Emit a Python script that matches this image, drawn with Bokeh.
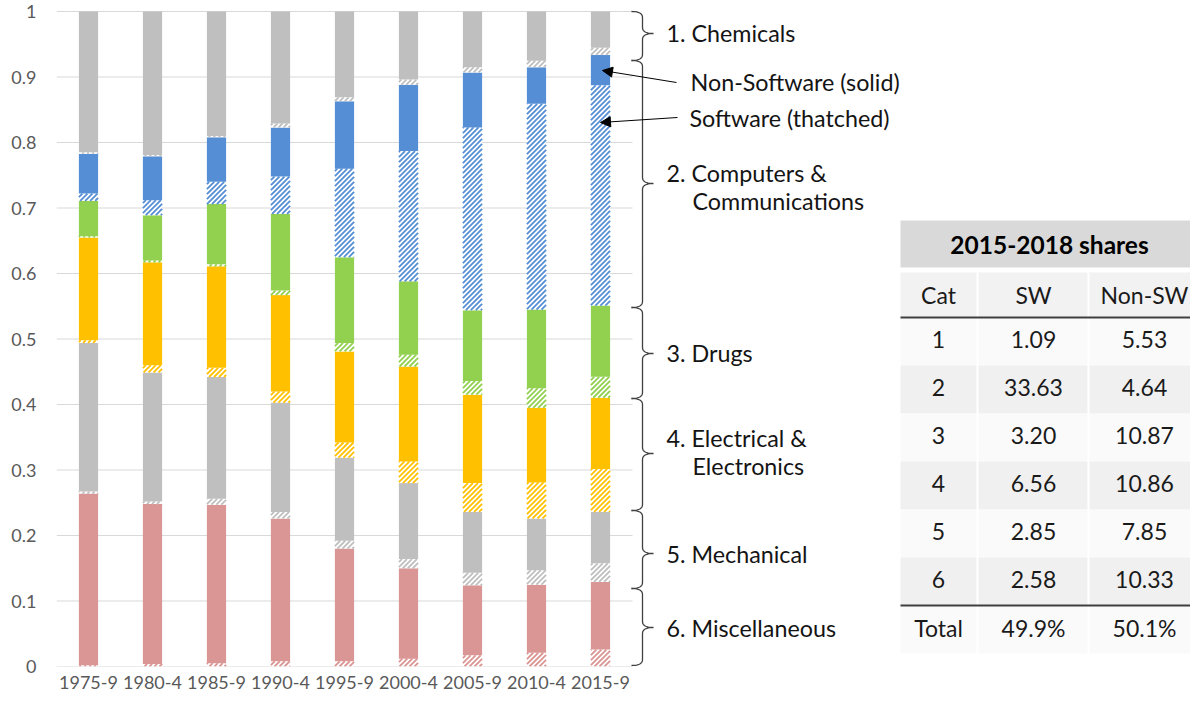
import numpy as np
from bokeh.plotting import figure
from bokeh.models import Range1d, FixedTicker, CustomJSTickFormatter, Arrow, NormalHead
from bokeh.core.properties import value
from bokeh.embed import file_html
from bokeh.resources import INLINE

# ---------------- data ----------------
periods = ["1975-9", "1980-4", "1985-9", "1990-4", "1995-9",
           "2000-4", "2005-9", "2010-4", "2015-9"]

# shares of all patents, stacked bottom -> top
misc_sw    = [0.002, 0.004, 0.005, 0.008, 0.008, 0.012, 0.017, 0.021, 0.0258]
misc_nonsw = [0.262, 0.244, 0.242, 0.218, 0.172, 0.138, 0.107, 0.104, 0.1033]
mech_sw    = [0.003, 0.004, 0.009, 0.010, 0.012, 0.014, 0.019, 0.022, 0.0285]
mech_nonsw = [0.227, 0.197, 0.186, 0.167, 0.127, 0.116, 0.093, 0.079, 0.0785]
elec_sw    = [0.004, 0.011, 0.014, 0.017, 0.023, 0.033, 0.044, 0.055, 0.0656]
elec_nonsw = [0.157, 0.157, 0.155, 0.147, 0.139, 0.145, 0.135, 0.114, 0.1086]
drug_sw    = [0.002, 0.003, 0.003, 0.007, 0.013, 0.018, 0.021, 0.030, 0.0320]
drug_nonsw = [0.054, 0.069, 0.092, 0.117, 0.131, 0.112, 0.108, 0.120, 0.1087]
comp_sw    = [0.011, 0.023, 0.034, 0.057, 0.135, 0.199, 0.279, 0.314, 0.3363]
comp_nonsw = [0.061, 0.067, 0.068, 0.075, 0.103, 0.101, 0.084, 0.056, 0.0464]
chem_sw    = [0.002, 0.002, 0.002, 0.006, 0.006, 0.008, 0.008, 0.010, 0.0109]
chem_nonsw = [0.215, 0.219, 0.190, 0.171, 0.131, 0.104, 0.085, 0.075, 0.0553]

category_labels = ["1. Chemicals", "2. Computers &\nCommunications", "3. Drugs",
                   "4. Electrical &\nElectronics", "5. Mechanical", "6. Miscellaneous"]

table_title = "2015-2018 shares"
table_header = ["Cat", "SW", "Non-SW"]
table_cat = ["1", "2", "3", "4", "5", "6"]
table_sw = [1.09, 33.63, 3.20, 6.56, 2.85, 2.58]
table_nonsw = [5.53, 4.64, 10.87, 10.86, 7.85, 10.33]
table_total = ["Total", "49.9%", "50.1%"]

# ---------------- styles ----------------
GRAY = "#BFBFBF"
BLUE = "#558ED5"
GREEN = "#92D050"
ORANGE = "#FFC000"
PINK = "#DA9694"
FONT = "Lato"
BAR_W = 0.3

series = [
    (misc_sw, PINK, True), (misc_nonsw, PINK, False),
    (mech_sw, GRAY, True), (mech_nonsw, GRAY, False),
    (elec_sw, ORANGE, True), (elec_nonsw, ORANGE, False),
    (drug_sw, GREEN, True), (drug_nonsw, GREEN, False),
    (comp_sw, BLUE, True), (comp_nonsw, BLUE, False),
    (chem_sw, GRAY, True), (chem_nonsw, GRAY, False),
]

# frame geometry (canvas pixels) and converters
FL, FB, XPX, YPX = 56, 666, 64.0, 655.0

def X(px):
    return -0.5 + (px - FL) / XPX

def Y(py):
    return (FB - py) / YPX

def PX(x):
    return FL + (x + 0.5) * XPX

def PY(v):
    return FB - v * YPX

W, H = 1190, 698
p = figure(width=W, height=H, output_backend="svg", toolbar_location=None,
           x_range=Range1d(X(FL), X(W)), y_range=Range1d(0, Y(0)),
           min_border_left=FL, min_border_right=0, min_border_top=0, min_border_bottom=H - FB)
p.grid.visible = False
p.outline_line_color = None
p.background_fill_color = "white"

# axes
p.yaxis.ticker = FixedTicker(ticks=[round(0.1 * i, 1) for i in range(11)])
p.yaxis.formatter = CustomJSTickFormatter(code="return (Math.round(tick*10)/10).toString();")
p.xaxis.ticker = FixedTicker(ticks=list(range(len(periods))))
p.xaxis.formatter = CustomJSTickFormatter(args=dict(labels=periods),
                                          code="return labels[Math.round(tick)] || '';")
for ax in (p.xaxis, p.yaxis):
    ax.axis_line_color = None
    ax.major_tick_line_color = None
    ax.minor_tick_line_color = None
    ax.major_tick_out = 0
    ax.major_tick_in = 0
    ax.major_label_text_font = FONT
    ax.major_label_text_font_size = "18px"
    ax.major_label_text_color = "#595959"
p.yaxis.major_label_standoff = 20
p.xaxis.major_label_standoff = 9

# gridlines limited to the bar area
gy = [round(0.1 * i, 1) for i in range(11)]
p.segment(x0=X(FL), x1=X(632), y0=gy, y1=gy, line_color="#D9D9D9", line_width=1)

# stacked bars; hatched (software) parts get upward diagonal stripes
PERIOD, STRIPE_W = 5.0, 1.8
xs = np.arange(len(periods))
bottom = np.zeros(len(periods))
for vals, col, hatched in series:
    v = np.array(vals, dtype=float)
    top = bottom + v
    if hatched:
        p.vbar(x=xs, bottom=bottom, top=top, width=BAR_W, fill_color="white", line_color=None)
        sx0, sy0, sx1, sy1 = [], [], [], []
        for xi, b, t in zip(xs, bottom, top):
            L, R = PX(xi - BAR_W / 2), PX(xi + BAR_W / 2)
            T, B = PY(t), PY(b)
            if B - T < 0.3:
                continue
            c = np.floor((L + T) / PERIOD) * PERIOD
            while c <= R + B + PERIOD:
                xa, xb = max(L, c - B), min(R, c - T)
                if xb > xa:
                    sx0.append(X(xa)); sy0.append(Y(c - xa))
                    sx1.append(X(xb)); sy1.append(Y(c - xb))
                c += PERIOD
        p.segment(x0=sx0, y0=sy0, x1=sx1, y1=sy1, line_color=col, line_width=STRIPE_W,
                  line_cap="butt")
    else:
        p.vbar(x=xs, bottom=bottom, top=top, width=BAR_W, fill_color=col, line_color=None)
    bottom = top

# braces
def brace(yt, ym, yb):
    def qb(p0, c, p1, n=12):
        t = np.linspace(0, 1, n)[:, None]
        return (1 - t) ** 2 * np.array(p0) + 2 * (1 - t) * t * np.array(c) + t ** 2 * np.array(p1)
    xl, xv, xr, r = 631, 642, 653, 6
    pts = np.vstack([
        qb((xl, yt), (xv, yt), (xv, yt + r)),
        qb((xv, ym - r), (xv, ym), (xr, ym)),
        qb((xr, ym), (xv, ym), (xv, ym + r)),
        qb((xv, yb - r), (xv, yb), (xl, yb)),
    ])
    p.line([X(a) for a in pts[:, 0]], [Y(b) for b in pts[:, 1]], line_color="#404040", line_width=1.3)

brace_px = [(11, 33, 60), (60, 183, 307), (307, 353, 398), (398, 453, 510), (510, 553, 588), (588, 627, 665)]
for yt, ym, yb in brace_px:
    brace(yt, ym, yb)

# category labels
label_pos = [(32,), (172, 200), (352,), (437, 465), (553,), (627,)]
tx, ty, tt = [], [], []
for lab, pos in zip(category_labels, label_pos):
    lines = lab.split("\n")
    for k, (line, yy) in enumerate(zip(lines, pos)):
        tx.append(X(666 if k == 0 else 692))
        ty.append(Y(yy))
        tt.append(line)
tx += [X(690), X(689)]
ty += [Y(81), Y(117)]
tt += ["Non-Software (solid)", "Software (thatched)"]
p.text(x=tx, y=ty, text=tt, text_font=value(FONT), text_font_size="23.3px",
       text_color="#141414", text_baseline="middle", text_align="left")

# arrows
for (x0, y0, x1, y1) in [(676, 82, 602, 70), (677, 117, 600, 122)]:
    p.add_layout(Arrow(end=NormalHead(size=10, fill_color="black", line_color="black"),
                       x_start=X(x0), y_start=Y(y0), x_end=X(x1), y_end=Y(y1),
                       line_color="black", line_width=1))

# ---------------- table ----------------
TL, TR = 900, W
col_c = [938, 1033, 1144]
p.quad(left=X(TL), right=X(TR), top=Y(220), bottom=Y(267), fill_color="#D9D9D9", line_color=None)
p.text(x=[X(1049)], y=[Y(244)], text=[table_title], text_font=value(FONT), text_font_style="bold",
       text_font_size="24.5px", text_color="black", text_align="center", text_baseline="middle")
p.quad(left=X(TL), right=X(TR), top=Y(272), bottom=Y(317), fill_color="#F2F2F2", line_color=None)
row_tops = [317 + 48 * i for i in range(7)]
row_fill = ["#FAFAFA", "#F0F0F0"] * 3 + ["#FAFAFA"]
p.quad(left=X(TL), right=X(TR), top=[Y(t) for t in row_tops], bottom=[Y(t + 48) for t in row_tops],
       fill_color=row_fill, line_color=None)
# column separators
p.segment(x0=[X(977), X(1088)], x1=[X(977), X(1088)], y0=Y(272), y1=Y(653),
          line_color="white", line_width=2)
# thick rules
p.segment(x0=X(TL), x1=X(TR), y0=[Y(317), Y(605)], y1=[Y(317), Y(605)],
          line_color="#3F3F3F", line_width=2)

cx, cy, ct = [], [], []
for c, h in zip(col_c, table_header):
    cx.append(X(c)); cy.append(Y(294)); ct.append(h)
for i in range(len(table_cat)):
    yy = 339 + 47.9 * i
    for c, s in zip(col_c, [table_cat[i], f"{table_sw[i]:.2f}", f"{table_nonsw[i]:.2f}"]):
        cx.append(X(c)); cy.append(Y(yy)); ct.append(s)
for c, s in zip(col_c, table_total):
    cx.append(X(c)); cy.append(Y(627)); ct.append(s)
p.text(x=cx, y=cy, text=ct, text_font=value(FONT), text_font_size="23px", text_color="#1a1a1a",
       text_align="center", text_baseline="middle")

open("out.html", "w").write(file_html(p, INLINE))
